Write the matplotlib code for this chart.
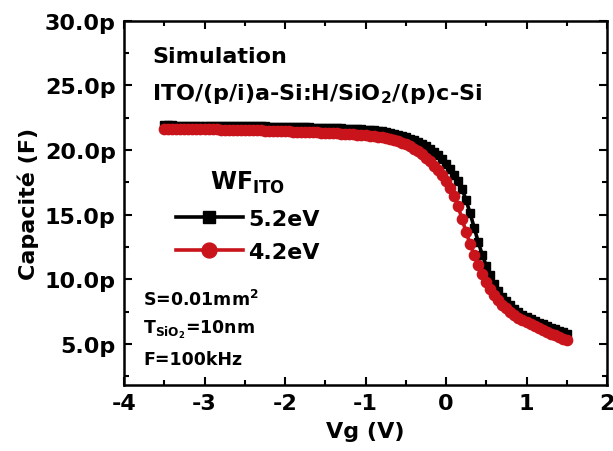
import numpy as np
import matplotlib
matplotlib.use("Agg")
import matplotlib.pyplot as plt
from matplotlib.ticker import MultipleLocator, FuncFormatter

# gate voltage sweep (V), step 0.05 V
vg = np.round(np.arange(-3.5, 1.5001, 0.05), 2)

# capacitance in pF, WF_ITO = 5.2 eV
cap_52 = [21.90, 21.90, 21.90, 21.89, 21.89, 21.89, 21.89, 21.88, 21.88, 21.88,
          21.88, 21.87, 21.87, 21.87, 21.86, 21.86, 21.86, 21.85, 21.85, 21.85,
          21.84, 21.84, 21.83, 21.83, 21.82, 21.82, 21.81, 21.81, 21.80, 21.80,
          21.79, 21.78, 21.78, 21.77, 21.76, 21.75, 21.75, 21.74, 21.73, 21.72,
          21.71, 21.70, 21.69, 21.68, 21.67, 21.66, 21.65, 21.63, 21.62, 21.60,
          21.58, 21.56, 21.53, 21.49, 21.45, 21.39, 21.33, 21.27, 21.20, 21.10,
          20.98, 20.87, 20.75, 20.60, 20.45, 20.28, 20.10, 19.85, 19.60, 19.30,
          18.95, 18.55, 18.10, 17.60, 17.00, 16.10, 15.10, 14.00, 12.90, 11.90,
          11.05, 10.30, 9.65, 9.10, 8.65, 8.30, 8.00, 7.72, 7.48, 7.27,
          7.08, 6.92, 6.78, 6.64, 6.52, 6.40, 6.27, 6.14, 6.02, 5.90,
          5.80]

# capacitance in pF, WF_ITO = 4.2 eV
cap_42 = [21.66, 21.66, 21.65, 21.65, 21.64, 21.64, 21.63, 21.63, 21.62, 21.62,
          21.61, 21.60, 21.60, 21.59, 21.58, 21.58, 21.57, 21.56, 21.56, 21.55,
          21.54, 21.53, 21.52, 21.52, 21.51, 21.50, 21.49, 21.48, 21.47, 21.46,
          21.45, 21.44, 21.43, 21.42, 21.41, 21.40, 21.38, 21.37, 21.36, 21.34,
          21.33, 21.31, 21.30, 21.28, 21.27, 21.25, 21.23, 21.21, 21.19, 21.16,
          21.13, 21.10, 21.06, 21.02, 20.97, 20.91, 20.85, 20.78, 20.70, 20.58,
          20.45, 20.29, 20.10, 19.90, 19.68, 19.42, 19.12, 18.80, 18.45, 18.05,
          17.60, 17.10, 16.45, 15.65, 14.65, 13.65, 12.70, 11.90, 11.10, 10.40,
          9.80, 9.25, 8.80, 8.40, 8.05, 7.75, 7.50, 7.25, 7.05, 6.86,
          6.70, 6.55, 6.40, 6.25, 6.10, 5.95, 5.80, 5.66, 5.52, 5.39,
          5.28]

labels = ["5.2eV", "4.2eV"]
x_ticks = [-4, -3, -2, -1, 0, 1, 2]
y_ticks = [5, 10, 15, 20, 25, 30]

plt.rcParams['font.family'] = 'DejaVu Sans'
plt.rcParams['font.weight'] = 'bold'
plt.rcParams['mathtext.default'] = 'bf'
plt.rcParams['axes.unicode_minus'] = False

W, H = 613, 452
fig = plt.figure(figsize=(W / 100, H / 100), dpi=100)
ax = fig.add_axes([124 / W, 1 - 385.5 / H, (607 - 124) / W, (385.5 - 21.7) / H])

red = '#C9141C'
ax.plot(vg, cap_52, color='black', lw=2.6, marker='s', ms=5.6, label=labels[0])
ax.plot(vg, cap_42, color=red, lw=2.6, marker='o', ms=7.4, label=labels[1])

ax.set_xlim(-4, 2)
ax.set_ylim(1.87, 30)
ax.set_xticks(x_ticks)
ax.set_yticks(y_ticks)
ax.xaxis.set_minor_locator(MultipleLocator(0.5))
ax.yaxis.set_minor_locator(MultipleLocator(2.5))
ax.yaxis.set_major_formatter(FuncFormatter(lambda v, p: f"{v:.1f}p"))
ax.tick_params(which='both', direction='in', top=True, right=True, width=1.5,
               labelsize=16, pad=6)
ax.tick_params(which='major', length=6)
ax.tick_params(which='minor', length=3.5)
for s in ax.spines.values():
    s.set_linewidth(1.8)

ax.set_xlabel("Vg (V)", fontsize=16, fontweight='bold', labelpad=6)
ax.set_ylabel("Capacité (F)", fontsize=16, fontweight='bold', labelpad=4)

def ftext(x, y, s, size):
    fig.text(x / W, 1 - y / H, s, fontsize=size, fontweight='bold',
             ha='left', va='baseline')

ftext(152, 63, "Simulation", 16)
ftext(152, 100, r"ITO/(p/i)a-Si:H/SiO$_2$/(p)c-Si", 16)
ftext(143, 306, r"S=0.01mm$^2$", 12.5)
ftext(143, 334, r"T$_{SiO_2}$=10nm", 12.5)
ftext(143, 365, "F=100kHz", 12.5)

leg = ax.legend(loc='upper left', bbox_to_anchor=(176 / W, 1 - 170 / H),
                bbox_transform=fig.transFigure, frameon=False,
                title=r"WF$_{ITO}$", title_fontproperties={'size': 17, 'weight': 'bold'},
                fontsize=16, handlelength=3, handletextpad=0.25,
                labelspacing=0.6, borderpad=0, borderaxespad=0, markerscale=1.45)

fig.savefig("out.png", dpi=100)
